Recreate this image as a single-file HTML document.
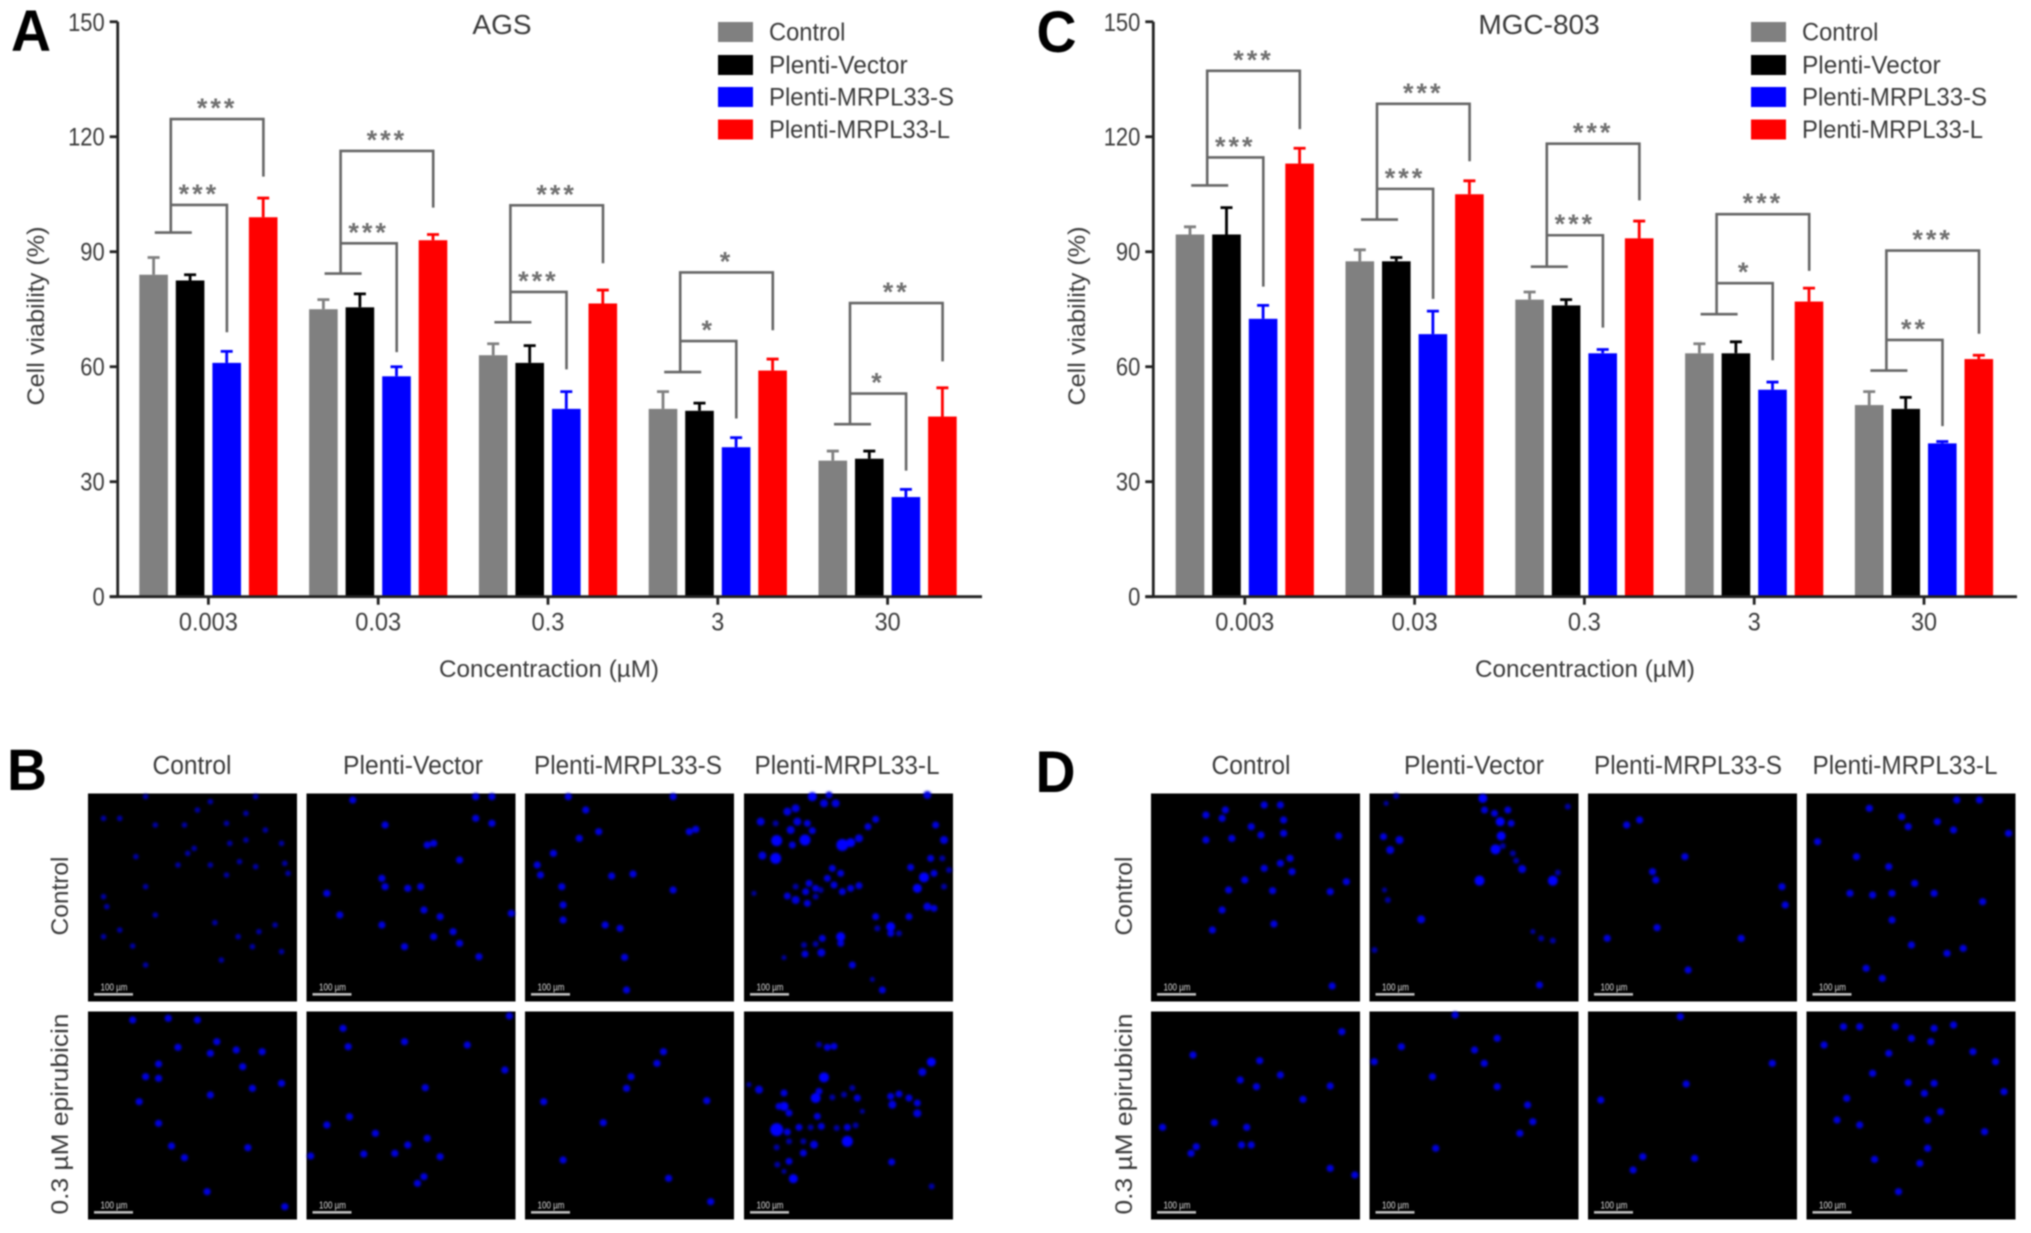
<!DOCTYPE html>
<html lang="en">
<head>
<meta charset="utf-8">
<title>Cell viability and microscopy figure</title>
<style>
html,body{margin:0;padding:0;background:#fff;}
#figure{display:block;width:2031px;height:1233px;filter:blur(0.7px);}
text{font-family:"Liberation Sans",Arial,sans-serif;fill:#3a3a3a;}
</style>
</head>
<body>
<svg id="figure" xmlns="http://www.w3.org/2000/svg" width="2031" height="1233" viewBox="0 0 2031 1233"></svg>
<script>
// ---- chart data ----
const categories = ['0.003', '0.03', '0.3', '3', '30'];
const seriesNames = ['Control', 'Plenti-Vector', 'Plenti-MRPL33-S', 'Plenti-MRPL33-L'];
const seriesColors = ['#808080', '#000000', '#0000ff', '#ff0000'];
const yTicks = [0, 30, 60, 90, 120, 150];

const agsMeans = [
  [84, 75, 63, 49, 35.5],
  [82.5, 75.5, 61, 48.5, 36],
  [61, 57.5, 49, 39, 26],
  [99, 93, 76.5, 59, 47]
];
const agsErrorTops = [
  [88.5, 77.5, 66, 53.5, 38],
  [84, 79, 65.5, 50.5, 38],
  [64, 60, 53.5, 41.5, 28],
  [104, 94.5, 80, 62, 54.5]
];
const mgcMeans = [
  [94.5, 87.5, 77.5, 63.5, 50],
  [94.5, 87.5, 76, 63.5, 49],
  [72.5, 68.5, 63.5, 54, 40],
  [113, 105, 93.5, 77, 62]
];
const mgcErrorTops = [
  [96.5, 90.5, 79.5, 66, 53.5],
  [101.5, 88.5, 77.5, 66.5, 52],
  [76, 74.5, 64.5, 56, 40.5],
  [117, 108.5, 98, 80.5, 63]
];
// significance brackets, in y-axis units
const agsBaseBar = [95, 84.3, 71.6, 58.6, 45];
const agsInnerTop = [102.2, 92.2, 79.5, 66.7, 53];
const agsInnerEnd = [69, 63.8, 59.3, 46.5, 32.9];
const agsOuterTop = [124.6, 116.3, 102.1, 84.6, 76.6];
const agsOuterEnd = [109.6, 101.5, 87, 69.5, 61.4];
const agsInnerStars = ['***', '***', '***', '*', '*'];
const agsOuterStars = ['***', '***', '***', '*', '**'];
const mgcBaseBar = [107.3, 98.4, 86.1, 73.7, 59];
const mgcInnerTop = [114.6, 106.4, 94.3, 81.8, 67];
const mgcInnerEnd = [80.9, 77.7, 70.2, 61.7, 44.5];
const mgcOuterTop = [137.2, 128.6, 118.2, 99.8, 90.3];
const mgcOuterEnd = [122, 113.6, 103.4, 85, 68.6];
const mgcInnerStars = ['***', '***', '***', '*', '**'];
const mgcOuterStars = ['***', '***', '***', '***', '***'];

// ---- microscopy cell spots ----
const spotsB = [
 [[225,200],[305,240],[325,215],[395,200],[185,265],[160,265],[240,285],[285,285],[350,280],[380,250],[410,300],[300,355],[380,330],[355,340],[435,340],[210,380],[275,405],[325,405],[370,395],[395,410],[350,435],[440,400],[225,470],[160,500],[165,530],[240,555],[332,578],[185,600],[160,620],[205,648],[368,620],[425,585],[400,605],[435,665],[390,650],[342,690],[225,705],[290,370],[445,430]],
 [[545,210],[735,200],[760,200],[735,265],[760,280],[595,285],[660,345],[670,340],[710,390],[590,445],[595,470],[630,475],[650,470],[505,490],[525,555],[655,540],[680,560],[590,585],[670,620],[700,605],[710,640],[625,650],[740,680],[790,550]],
 [[878,200],[1040,200],[905,240],[895,325],[925,305],[1075,298],[1065,305],[855,370],[830,405],[835,435],[945,438],[978,432],[868,470],[1040,480],[870,525],[870,570],[935,585],[958,595],[965,682],[968,780]],
 [],
 [[205,870],[260,865],[305,870],[275,952],[335,935],[325,970],[365,960],[405,965],[245,1002],[375,1010],[225,1040],[245,1045],[435,1060],[390,1075],[325,1095],[215,1115],[245,1180],[265,1248],[285,1283],[383,1253],[320,1385],[440,1430]],
 [[787,858],[530,895],[538,950],[625,935],[722,945],[780,1020],[657,1073],[540,1160],[505,1185],[660,1225],[630,1245],[610,1270],[680,1280],[562,1272],[480,1278],[655,1340],[645,1360],[580,1210]],
 [[1025,965],[1015,1000],[975,1040],[968,1075],[840,1115],[1092,1112],[932,1178],[870,1290],[1033,1345],[1098,1415]],
 []
];
const spotsD = [
 [[295,255],[325,240],[320,265],[385,225],[410,225],[415,270],[365,290],[380,315],[415,310],[335,325],[295,330],[500,318],[385,415],[410,400],[425,385],[428,425],[355,450],[398,482],[330,480],[320,540],[487,485],[512,455],[305,600],[400,582],[490,768]],
 [],
 [[945,285],[965,270],[1035,380],[985,425],[990,450],[1190,525],[1185,470],[992,593],[915,625],[1122,625],[1040,720]],
 [[1320,235],[1370,260],[1380,290],[1425,275],[1450,300],[1455,210],[1490,210],[1240,335],[1535,310],[1300,380],[1350,410],[1390,460],[1420,490],[1355,490],[1325,495],[1290,490],[1355,570],[1440,670],[1465,655],[1385,645],[1315,715],[1340,745],[1495,515]],
 [[505,905],[275,975],[378,992],[410,1035],[373,1070],[487,1068],[445,1108],[228,1192],[308,1178],[358,1192],[350,1245],[365,1245],[280,1250],[272,1270],[487,1315],[525,1335],[348,1050]],
 [[680,855],[745,925],[597,950],[710,960],[725,1000],[555,995],[645,1040],[745,1070],[792,1125],[800,1175],[780,1210],[650,1255]],
 [[1028,860],[1037,1062],[970,1280],[955,1320],[1050,1285],[905,1110],[1170,1000]],
 [[1280,890],[1305,890],[1360,890],[1420,895],[1450,885],[1385,925],[1415,935],[1250,945],[1350,970],[1480,965],[1515,995],[1325,1030],[1380,1058],[1420,1060],[1405,1090],[1285,1105],[1528,1085],[1430,1145],[1410,1170],[1270,1170],[1305,1185],[1410,1255],[1328,1288],[1398,1300],[1498,1205],[1365,1385]]
];
// closer readings for three panels: [x, y, radius], x/y measured at 3x from the crop origin
const detailB4 = [[205,20,4],[240,40,3.5],[275,40,3.5],[255,15,3],[130,65,3.5],[155,55,3.5],[160,95,3.5],[190,100,3],[50,95,3.5],[95,100,2.5],[140,120,3.5],[205,122,3],[98,152,5],[183,150,5],[145,165,3],[55,197,3.5],[95,205,5],[395,88,3],[372,110,3],[345,145,3.5],[320,158,4],[295,165,5.5],[265,235,3],[290,250,3],[250,265,3],[270,285,3],[295,305,3],[320,295,3],[345,287,3],[155,290,2.5],[195,280,3],[215,295,3],[185,305,3],[215,320,2.5],[130,318,3],[155,330,3.5],[190,340,3],[230,300,2.5],[575,105,3],[600,150,3.5],[560,205,3],[500,232,3],[540,262,4.5],[570,250,3],[520,295,4],[595,205,2.5],[615,240,2.5],[550,350,3.5],[570,355,3],[495,380,3],[395,380,3],[440,410,4],[400,415,2.5],[440,430,3],[465,430,2.5],[290,440,4],[235,445,3],[290,460,3],[180,465,2.5],[215,462,2.5],[232,488,3.5],[183,492,3],[325,525,3],[120,503,2],[385,568,2],[415,600,3],[600,290,2.5],[550,15,3.5],[30,310,2]];
const detailB8 = [[225,110,2.5],[250,118,3],[270,115,3],[240,208,4.5],[120,255,3],[215,270,4.5],[225,250,3],[265,268,2.5],[300,260,2.5],[325,240,2.5],[340,270,3],[45,245,3.5],[15,230,2],[120,295,4],[135,315,3],[105,295,3],[220,325,3],[355,310,2],[98,365,6],[130,372,3],[165,358,3],[200,358,2.5],[232,355,3],[278,360,2.5],[310,358,3],[335,352,2.5],[310,400,5],[210,410,3.5],[178,400,2.5],[135,400,2.5],[98,418,2.5],[178,435,3],[135,460,3],[100,470,2.5],[148,512,4],[120,490,2],[440,265,3],[465,258,3],[445,290,3.5],[495,270,3],[520,285,3],[520,316,3.5],[535,192,3.5],[562,162,4],[443,462,3],[563,535,2.5]];
const detailD2 = [[340,25,4],[345,60,3],[375,70,3],[415,60,3],[392,95,4],[425,100,3],[395,138,4],[378,178,4.5],[400,168,2.5],[430,190,2.5],[440,212,2.5],[458,237,3.5],[330,272,4.5],[565,248,2.5],[550,272,4.5],[42,140,3],[90,150,3.5],[62,180,3.5],[80,18,2.5],[50,40,2],[595,50,2.5],[45,300,2],[55,330,2.5],[155,388,3.5],[490,425,2],[515,445,2.5],[550,452,2.5],[15,480,2.5],[510,585,3]];

// ---- printed label widths ----
const headWidths = [79, 140, 188, 185];
const legendWidths = [76.4, 138.6, 185, 181];

// ---- drawing helpers ----
const NS = 'http://www.w3.org/2000/svg';
const root = document.getElementById('figure');
function make(parent, tag, attrs) {
  const el = document.createElementNS(NS, tag);
  for (const k in attrs) el.setAttribute(k, attrs[k]);
  parent.appendChild(el);
  return el;
}
function label(parent, str, x, y, size, anchor, extra) {
  const el = make(parent, 'text', Object.assign({x: x, y: y, 'font-size': size, 'text-anchor': anchor || 'start'}, extra || {}));
  el.textContent = str;
  return el;
}
function numWidth(str, perDigit) {
  let w = 0;
  for (const ch of str) w += ch === '.' ? perDigit * 0.54 : perDigit;
  return w;
}

function drawChart(cfg) {
  const g = make(root, 'g', {});
  
  

  const y = v => cfg.y0 - v * cfg.unit;
  const xCat = i => cfg.cat0 + i * cfg.catStep;
  const offsets = [-54.8, -18.3, 18.3, 54.8];

  // bars + error bars
  cfg.means.forEach((series, s) => {
    series.forEach((v, i) => {
      const cx = xCat(i) + offsets[s];
      const bar = make(g, 'rect', {x: cx - 14.3, y: y(v), width: 28.6, height: cfg.y0 - y(v), fill: seriesColors[s]});
      
      
      const top = y(cfg.tops[s][i]);
      const err = make(g, 'path', {d: 'M' + cx + ' ' + y(v) + 'V' + top + 'M' + (cx - 6) + ' ' + top + 'H' + (cx + 6), stroke: seriesColors[s], 'stroke-width': 2.8, fill: 'none'});
      
      
    });
  });

  // axes
  const axes = make(g, 'path', {d: 'M' + cfg.axisX + ' ' + y(150) + 'V' + cfg.y0 + 'M' + (cfg.axisX - 8) + ' ' + cfg.y0 + 'H' + cfg.axisEnd, stroke: '#222', 'stroke-width': 2.8, fill: 'none'});
  
  

  yTicks.forEach(t => {
    const tick = make(g, 'path', {d: 'M' + (cfg.axisX - 8) + ' ' + y(t) + 'H' + cfg.axisX, stroke: '#222', 'stroke-width': 2.8});
    
    
    const s = String(t);
    const tl = label(g, s, cfg.axisX - 13, y(t) + 9, 25, 'end', {textLength: numWidth(s, 12.2), lengthAdjust: 'spacingAndGlyphs'});
    
    
  });
  categories.forEach((c, i) => {
    const tick = make(g, 'path', {d: 'M' + xCat(i) + ' ' + cfg.y0 + 'v8', stroke: '#222', 'stroke-width': 2.8});
    
    
    const tl = label(g, c, xCat(i), cfg.y0 + 34, 25, 'middle', {textLength: numWidth(c, 13), lengthAdjust: 'spacingAndGlyphs'});
    
    
  });

  // brackets
  categories.forEach((c, i) => {
    const left = xCat(i) - 37.6;
    const inR = xCat(i) + 18.5;
    const outR = xCat(i) + 55;
    const d = 'M' + (left - 16) + ' ' + y(cfg.base[i]) + 'H' + (left + 21) +
      'M' + left + ' ' + y(cfg.base[i]) + 'V' + y(cfg.outerTop[i]) + 'H' + outR + 'V' + y(cfg.outerEnd[i]) +
      'M' + left + ' ' + y(cfg.innerTop[i]) + 'H' + inR + 'V' + y(cfg.innerEnd[i]);
    const br = make(g, 'path', {d: d, stroke: '#666', 'stroke-width': 2.6, fill: 'none'});
    
    
    const s1 = label(g, cfg.innerStars[i], (left + inR) / 2, y(cfg.innerTop[i]) - 2, 27, 'middle', {'letter-spacing': '3px', style: 'fill:#707070;font-weight:bold'});
    
    
    const s2 = label(g, cfg.outerStars[i], (left + outR) / 2, y(cfg.outerTop[i]) - 2, 27, 'middle', {'letter-spacing': '3px', style: 'fill:#707070;font-weight:bold'});
    
    
  });

  // titles
  const t = label(g, cfg.title, cfg.titleX, 34, 28, 'middle');
  
  
  const xt = label(g, 'Concentraction (µM)', cfg.xTitleX, 677, 24, 'middle', {textLength: 220, lengthAdjust: 'spacingAndGlyphs'});
  
  
  const yt = label(g, 'Cell viability (%)', 0, 0, 24, 'middle', {transform: 'translate(' + cfg.yTitleX + ' 316) rotate(-90)', textLength: 179, lengthAdjust: 'spacingAndGlyphs'});
  
  

  // legend
  seriesNames.forEach((n, s) => {
    const ly = [32, 65, 97, 129.5][s];
    const sw = make(g, 'rect', {x: cfg.legendX, y: ly - 10, width: 35, height: 20, fill: seriesColors[s]});
    
    
    const tx = label(g, n, cfg.legendX + 51, ly + 8.5, 25, 'start', {textLength: legendWidths[s], lengthAdjust: 'spacingAndGlyphs'});
    
    
  });
}

drawChart({name: 'chart-ags', title: 'AGS', titleX: 502, means: agsMeans, tops: agsErrorTops, base: agsBaseBar, innerTop: agsInnerTop, innerEnd: agsInnerEnd, outerTop: agsOuterTop, outerEnd: agsOuterEnd, innerStars: agsInnerStars, outerStars: agsOuterStars, y0: 596.7, unit: 3.833, cat0: 208.4, catStep: 169.8, axisX: 117.7, axisEnd: 982, xTitleX: 549, yTitleX: 44, legendX: 718});
drawChart({name: 'chart-mgc-803', title: 'MGC-803', titleX: 1539, means: mgcMeans, tops: mgcErrorTops, base: mgcBaseBar, innerTop: mgcInnerTop, innerEnd: mgcInnerEnd, outerTop: mgcOuterTop, outerEnd: mgcOuterEnd, innerStars: mgcInnerStars, outerStars: mgcOuterStars, y0: 596.7, unit: 3.833, cat0: 1244.8, catStep: 169.8, axisX: 1153.3, axisEnd: 2017, xTitleX: 1585, yTitleX: 1085, legendX: 1751});

// ---- microscopy grids ----
function spotColor(r) {
  return r >= 4 ? '#0000ff' : r >= 3 ? '#0000e0' : '#0000a8';
}
function drawGrid(cfg) {
  const g = make(root, 'g', {});
  
  
  const rowY = [793.5, 1011.5];
  const h = 208;
  cfg.colX.forEach((x, c) => {
    const head = label(g, seriesNames[c], cfg.headX[c], 774, 25.5, 'middle', {textLength: headWidths[c], lengthAdjust: 'spacingAndGlyphs'});
    
    
  });
  const r1 = label(g, 'Control', 0, 0, 24, 'middle', {transform: 'translate(' + cfg.rowX + ' 896) rotate(-90)', textLength: 79, lengthAdjust: 'spacingAndGlyphs'});
  
  
  const r2 = label(g, '0.3 µM epirubicin', 0, 0, 24, 'middle', {transform: 'translate(' + cfg.rowX + ' 1114) rotate(-90)', textLength: 201, lengthAdjust: 'spacingAndGlyphs'});
  
  

  rowY.forEach((ry, r) => {
    cfg.colX.forEach((x, c) => {
      const idx = r * 4 + c;
      const panel = make(g, 'rect', {x: x, y: ry, width: 209, height: h, fill: '#000'});
      
      
      const nuclei = make(g, 'g', {style: 'filter:blur(1.1px)'});
      
      
      cfg.spots[idx].forEach(p => {
        const rad = cfg.bright[idx] ? 3.6 : 2.8;
        const spot = make(nuclei, 'circle', {cx: p[0] / 1.545 + cfg.zoomX, cy: p[1] / 3 + 730, r: rad, fill: spotColor(rad)});
        
        
      });
      (cfg.detail[idx] || []).forEach(p => {
        const spot = make(nuclei, 'circle', {cx: x + p[0] / 3, cy: ry + p[1] / 3 - 3.5, r: p[2] + 0.5, fill: spotColor(p[2])});
        
        
      });
      const bar = make(g, 'rect', {x: x + 6, y: ry + 199.6, width: 39, height: 2.5, fill: '#c4c4c4'});
      
      
      const cap = label(g, '100 µm', x + 26, ry + 197, 10, 'middle', {style: 'fill:#ddd', textLength: 27, lengthAdjust: 'spacingAndGlyphs'});
      
      
    });
  });
}
drawGrid({name: 'micrographs-ags', spots: spotsB, detail: {3: detailB4, 7: detailB8}, bright: [0,1,1,1,1,1,1,1], colX: [88, 306.5, 525, 744], headX: [192, 413, 628, 847], rowX: 68, zoomX: 0});
drawGrid({name: 'micrographs-mgc-803', spots: spotsD, detail: {1: detailD2}, bright: [1,1,1,1,1,1,1,1], colX: [1151, 1369.5, 1588, 1806.5], headX: [1251, 1474, 1688, 1905], rowX: 1132, zoomX: 1015});

// ---- panel letters ----
const panelLetters = ['A', 'B', 'C', 'D'];
const lettersX = [11, 7, 1036.5, 1035.5];
const lettersY = [51, 790, 52, 792];
panelLetters.forEach((s, i) => {
  const el = label(root, s, lettersX[i], lettersY[i], 58, 'start', {style: 'fill:#000;font-weight:bold', textLength: 40, lengthAdjust: 'spacingAndGlyphs'});
  
  
});
</script>
</body>
</html>
